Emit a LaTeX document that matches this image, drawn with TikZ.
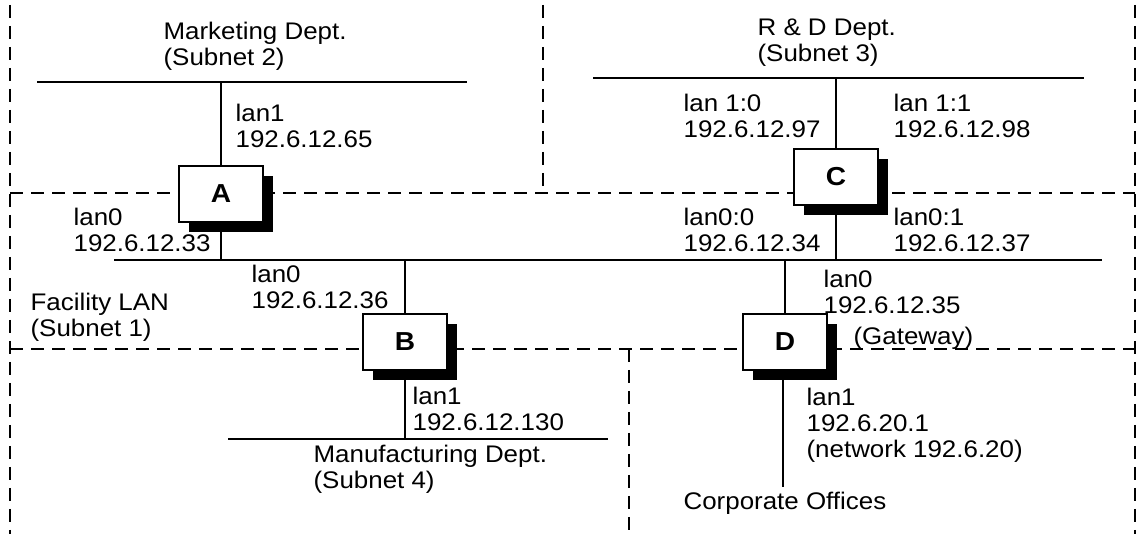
\documentclass[tikz,border=0pt]{standalone}
\usepackage{fontspec}
\setmainfont[FakeStretch=1.08]{Liberation Sans}
\usetikzlibrary{shadows}

\begin{document}
\begin{tikzpicture}[x=1pt,y=-1pt,line width=1.2pt,
  font=\fontsize{24}{26}\selectfont,
  lbl/.style={anchor=base west,align=left,inner sep=0pt},
  host/.style={draw,fill=white,minimum width=84pt,minimum height=56pt,inner sep=0pt,
    font=\fontsize{26}{28}\selectfont\bfseries,
    general shadow={fill=black,shadow xshift=10pt,shadow yshift=-10pt}},
  zone/.style={dash pattern=on 13pt off 8pt,line width=1.1pt}]
  \useasboundingbox (0,0) rectangle (1136,534);
  % subnet borders
  \draw[zone] (10,5) -- (10,534);
  \draw[zone] (1135,5) -- (1135,534);
  \draw[zone] (543,5) -- (543,193);
  \draw[zone] (629,349) -- (629,534);
  \draw[zone] (10,193) -- (1135,193);
  \draw[zone] (10,349) -- (1135,349);
  % lans
  \coordinate (mk1) at (37,82);   \coordinate (mk2) at (467,82);
  \coordinate (rd1) at (593,78);  \coordinate (rd2) at (1084,78);
  \coordinate (bb1) at (114,260); \coordinate (bb2) at (1102,260);
  \coordinate (mf1) at (228,439); \coordinate (mf2) at (608,439);
  \coordinate (corp) at (783,487);
  \draw (mk1) -- (mk2);
  \draw (rd1) -- (rd2);
  \draw (bb1) -- (bb2);
  \draw (mf1) -- (mf2);
  % hosts
  \node[host] (A) at (221,194) {A};
  \node[host] (C) at (836,177) {C};
  \node[host] (B) at (405,342) {B};
  \node[host] (D) at (785,342) {D};
  \draw (A.north) -- (A.north |- mk1);
  \draw (A.south) -- (A.south |- bb1);
  \draw (C.north) -- (C.north |- rd1);
  \draw (C.south) -- (C.south |- bb1);
  \draw (B.north) -- (B.north |- bb1);
  \draw (B.south) -- (B.south |- mf1);
  \draw (D.north) -- (D.north |- bb1);
  \draw (D.south -| corp) -- (corp);
  % labels (anchored at the last baseline)
  \node[lbl] (mkt) at (163,66) {Marketing Dept.\\(Subnet 2)};
  \node[lbl] (rnd) at (757,62) {R \& D Dept.\\(Subnet 3)};
  \node[lbl] (fac) at (30,337) {Facility LAN\\(Subnet 1)};
  \node[lbl] (mfg) at (313,489) {Manufacturing Dept.\\(Subnet 4)};
  \node[lbl] (cor) at (683,510) {Corporate Offices};
  \node[lbl] (a1) at (235,148) {lan1\\192.6.12.65};
  \node[lbl] (a0) at (73,252) {lan0\\192.6.12.33};
  \node[lbl] (c10) at (683,138) {lan 1:0\\192.6.12.97};
  \node[lbl] (c11) at (893,138) {lan 1:1\\192.6.12.98};
  \node[lbl] (c00) at (683,252) {lan0:0\\192.6.12.34};
  \node[lbl] (c01) at (893,252) {lan0:1\\192.6.12.37};
  \node[lbl] (b0) at (251,309) {lan0\\192.6.12.36};
  \node[lbl] (b1) at (412,431) {lan1\\192.6.12.130};
  \node[lbl] (d0) at (823,314) {lan0\\192.6.12.35};
  \node[lbl] (gw) at (853,345) {(Gateway)};
  \node[lbl] (d1) at (806,458) {lan1\\192.6.20.1\\(network 192.6.20)};
\end{tikzpicture}
\end{document}
